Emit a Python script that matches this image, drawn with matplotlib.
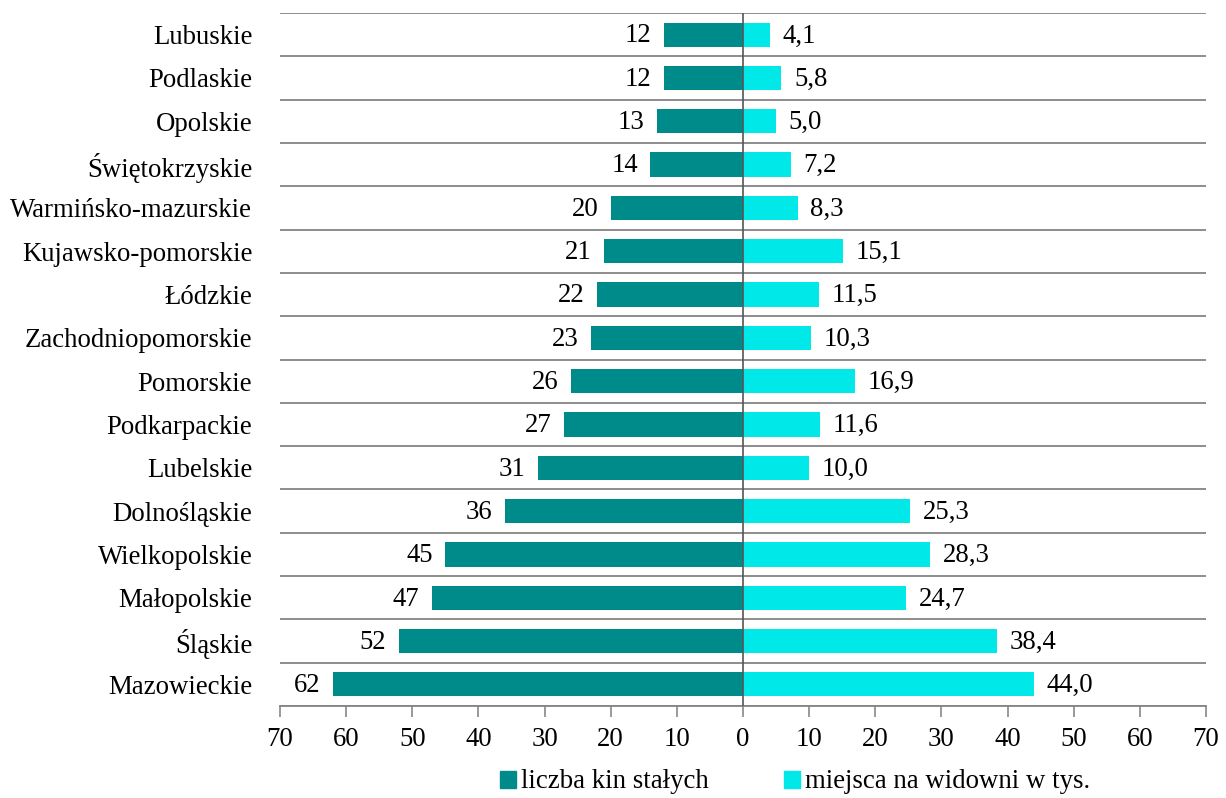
import matplotlib
matplotlib.use("Agg")
import matplotlib.pyplot as plt
import numpy as np
from matplotlib.patches import Patch

plt.rcParams['font.family'] = ['Liberation Serif', 'DejaVu Serif']

regions = ["Lubuskie", "Podlaskie", "Opolskie", "Świętokrzyskie", "Warmińsko-mazurskie",
           "Kujawsko-pomorskie", "Łódzkie", "Zachodniopomorskie", "Pomorskie", "Podkarpackie",
           "Lubelskie", "Dolnośląskie", "Wielkopolskie", "Małopolskie", "Śląskie", "Mazowieckie"]
cinemas = [12, 12, 13, 14, 20, 21, 22, 23, 26, 27, 31, 36, 45, 47, 52, 62]
seats = [4.1, 5.8, 5.0, 7.2, 8.3, 15.1, 11.5, 10.3, 16.9, 11.6, 10.0, 25.3, 28.3, 24.7, 38.4, 44.0]
series_names = ["liczba kin stałych", "miejsca na widowni w tys."]
ticks = [-70, -60, -50, -40, -30, -20, -10, 0, 10, 20, 30, 40, 50, 60, 70]

c_left = "#008B8B"
c_right = "#00E8E8"
fs = 19.3

fig = plt.figure(figsize=(12.26, 7.98), dpi=100)
ax = fig.add_axes([280/1226, 1-706/798, (1206-280)/1226, (706-13)/798])

y = np.arange(len(regions))
h = 0.56
ax.barh(y, [-v for v in cinemas], height=h, color=c_left, zorder=3)
ax.barh(y, seats, height=h, color=c_right, zorder=3)

for yi, v in zip(y, cinemas):
    ax.text(-v - 1.9, yi + 0.03, f"{v}", ha="right", va="center", fontsize=fs)
for yi, v in zip(y, seats):
    ax.text(v + 1.9, yi + 0.03, f"{v:.1f}".replace(".", ","), ha="left", va="center", fontsize=fs)

ax.set_xlim(-70, 70)
ax.set_ylim(len(regions) - 0.5, -0.5)
ax.set_yticks(y)
ax.set_yticklabels(regions, fontsize=fs)
ax.tick_params(axis="y", length=0, pad=20)
ax.set_xticks(ticks)
ax.set_xticklabels([str(abs(t)) for t in ticks], fontsize=fs)
ax.tick_params(axis="x", direction="out", length=8, width=1.2, color="#888888", pad=7)

for b in np.arange(-0.5, len(regions) + 0.5, 1):
    ax.axhline(b, color="#858585", lw=1.3, zorder=1)
ax.axvline(0, color="#555555", lw=1.2, zorder=4)

for s in ["top", "right", "left"]:
    ax.spines[s].set_visible(False)
ax.spines["bottom"].set_color("#858585")
ax.spines["bottom"].set_linewidth(1.3)

handles = [Patch(color=c_left), Patch(color=c_right)]
fig.legend(handles, series_names, loc="center", bbox_to_anchor=(795/1226, 1-782/798), ncol=2,
           frameon=False, fontsize=fs, handlelength=0.6, handleheight=0.6,
           handletextpad=0.2, columnspacing=2.8)

fig.savefig("out.png", dpi=100)
